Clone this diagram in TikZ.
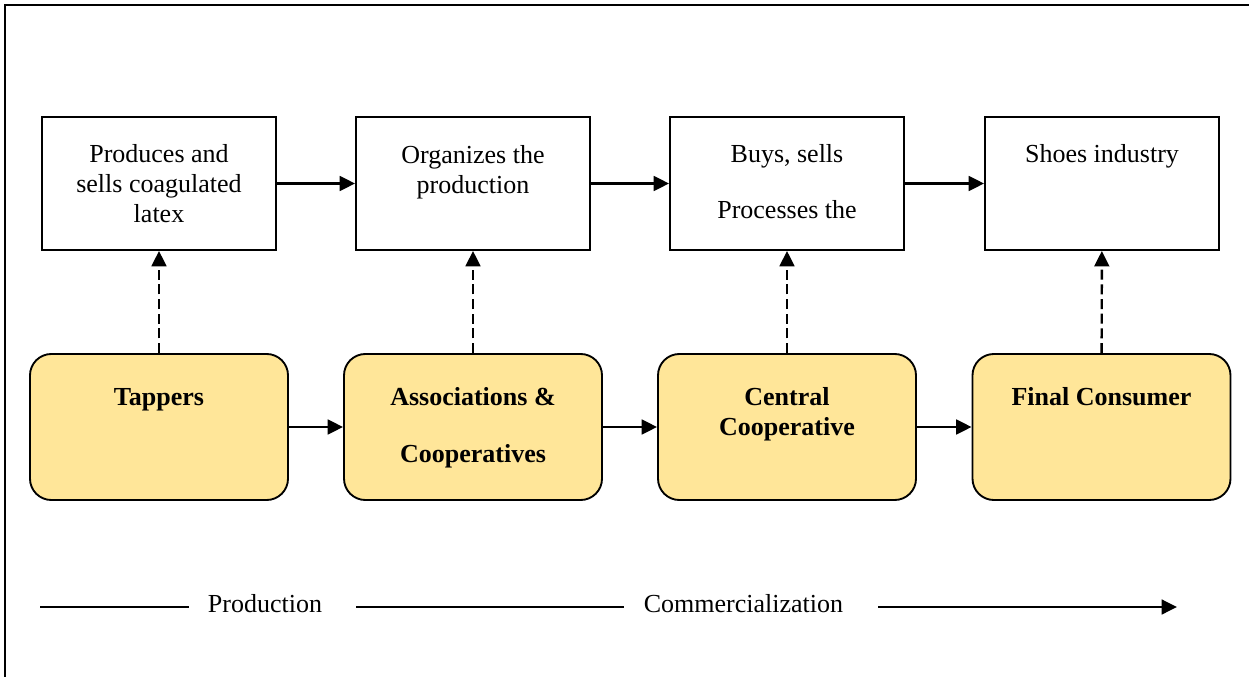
\documentclass[tikz,border=0pt]{standalone}
\usepackage{fontspec}
\setmainfont{Liberation Serif}
\usetikzlibrary{arrows.meta}

\begin{document}
\begin{tikzpicture}[x=0.75pt,y=0.75pt,yscale=-1,xscale=1,
  every node/.style={font=\fontsize{19.5}{22.5}\selectfont},
  rolebox/.style={draw, line width=1.4pt, minimum width=175.5pt, minimum height=99.75pt, inner sep=0pt},
  actorbox/.style={draw, line width=1.4pt, rounded corners=16pt, fill={rgb, 255:red, 255; green, 230; blue, 153}, minimum width=193.5pt, minimum height=109.5pt, inner sep=0pt},
  boxtext/.style={anchor=base, align=center, inner sep=0pt},
  actortext/.style={boxtext, font=\fontsize{19.5}{22.5}\selectfont\bfseries},
  phase/.style={inner sep=0pt, text height=13.5pt, text depth=4.3pt},
  flow/.style={line width=1.8pt, -{Triangle[length=11.5pt,width=11pt]}},
  link/.style={flow, dash pattern=on 7.5pt off 3.5pt}]
\useasboundingbox (0,0) rectangle (1249,677);

%Shape: Frame
\draw [line width=1.6pt] (1249,5) -- (5,5) -- (5,677) ;

%Shape: Rectangle
\node [rolebox] (produces) at (159,183.5) {};
\node [rolebox] (organizes) at (473,183.5) {};
\node [rolebox] (buys) at (787,183.5) {};
\node [rolebox] (shoes) at (1102,183.5) {};

%Shape: Rounded Rect
\node [actorbox] (tappers) at (159,427) {};
\node [actorbox] (assoc) at (473,427) {};
\node [actorbox] (central) at (787,427) {};
\node [actorbox] (consumer) at (1101.5,427) {};

% Text Node (placed on the baseline of the last line)
\node [boxtext] (producestxt) at (159,223) {Produces and\\sells coagulated\\latex};
% Text Node
\node [boxtext] (organizestxt) at (473,194) {Organizes the\\production};
% Text Node
\node [boxtext] (buystxt) at (787,219) {Buys, sells\\[19.5pt]Processes the};
% Text Node
\node [boxtext] (shoestxt) at (1102,163) {Shoes industry};

% Text Node
\node [actortext] (tapperstxt) at (159,405) {Tappers};
% Text Node
\node [actortext] (assoctxt) at (473,462) {Associations \&\\[20.25pt]Cooperatives};
% Text Node
\node [actortext] (centraltxt) at (787,435) {Central\\Cooperative};
% Text Node
\node [actortext] (consumertxt) at (1101.5,405) {Final Consumer};

%Straight Lines
\draw [flow] (produces) -- (organizes) ;
\draw [flow] (organizes) -- (buys) ;
\draw [flow] (buys) -- (shoes) ;
\draw [flow] (tappers) -- (assoc) ;
\draw [flow] (assoc) -- (central) ;
\draw [flow] (central) -- (consumer) ;

%Dashed Lines
\draw [link] (tappers) -- (produces) ;
\draw [link] (assoc) -- (organizes) ;
\draw [link] (central) -- (buys) ;
\draw [link] (consumer) -- (shoes) ;

% Text Node
\node [phase] (prodlbl) at (265,606) {Production};
% Text Node
\node [phase] (comlbl) at (743.5,606) {Commercialization};

\coordinate (tlstart) at (40,607);
\coordinate (tlend) at (1177,607);
%Straight Lines
\draw [line width=1.8pt] (tlstart) -- ([xshift=-14pt]tlstart -| prodlbl.west) ;
\draw [line width=1.8pt] ([xshift=25.5pt]tlstart -| prodlbl.east) -- ([xshift=-15pt]tlstart -| comlbl.west) ;
\draw [flow] ([xshift=26pt]tlstart -| comlbl.east) -- (tlend) ;

\end{tikzpicture}
\end{document}
